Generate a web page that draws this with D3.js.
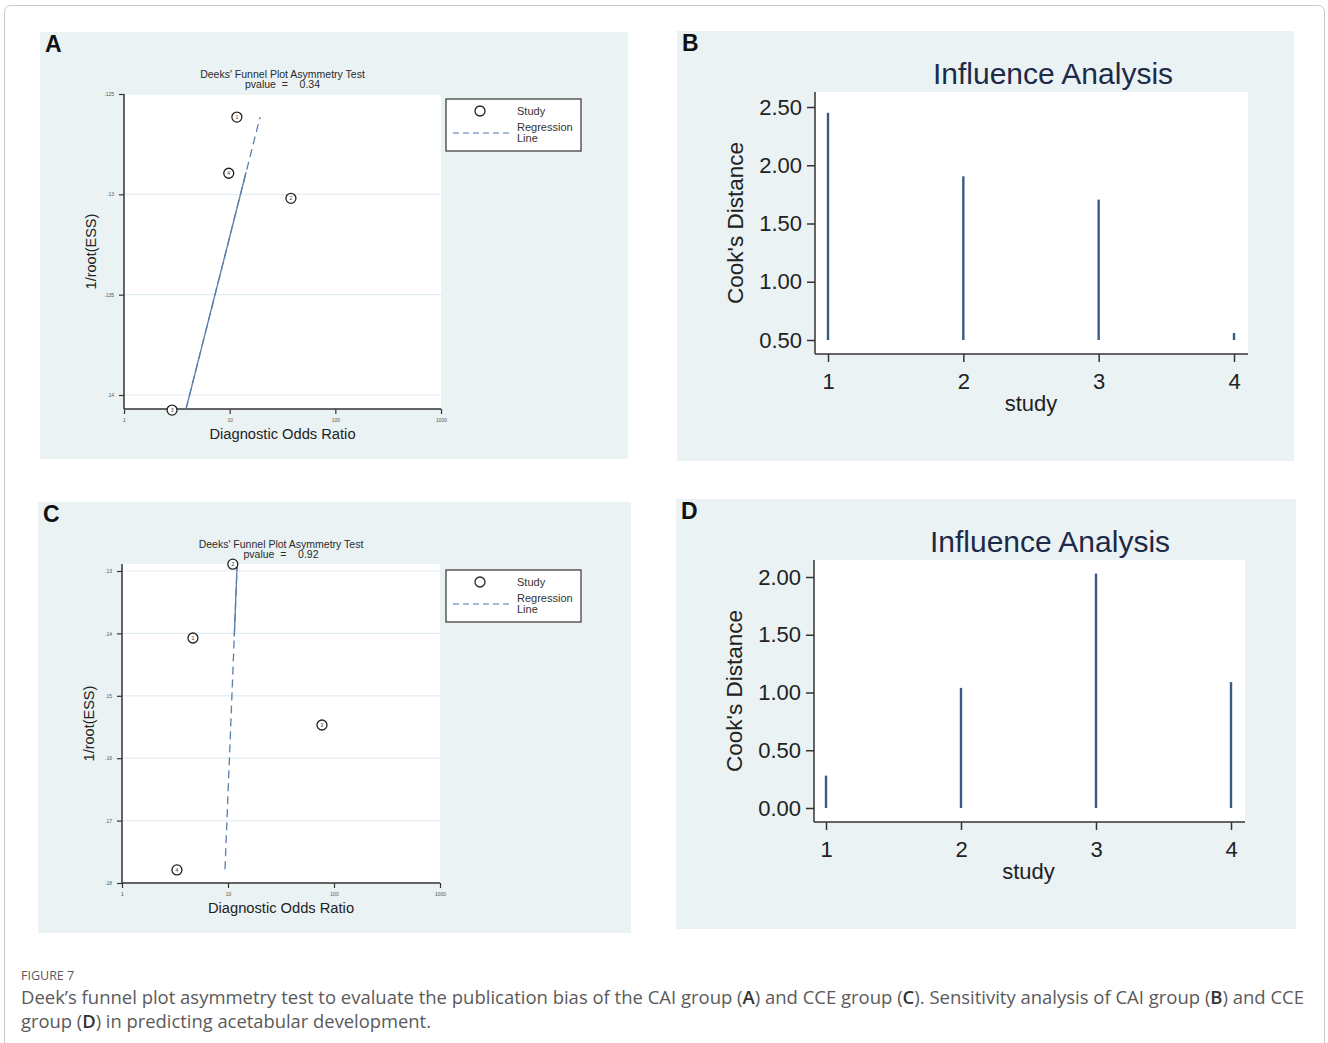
<!DOCTYPE html>
<html>
<head>
<meta charset="utf-8">
<script src="https://cdn.jsdelivr.net/npm/d3@7"></script>
<style>
  body { margin: 0; background: #fff; }
  svg text { font-family: "Liberation Sans", Arial, sans-serif; }
  .caption text { font-family: "Open Sans", "Noto Sans", sans-serif; }
</style>
</head>
<body>
<svg id="fig" width="1328" height="1043"></svg>
<script>
// Data

// Panel A - Deeks' funnel plot, CAI group
const funnelA_study = ["1", "2", "3", "4"];
const funnelA_dor = [11.7, 38, 2.85, 9.8];
const funnelA_invEss = [0.12615, 0.1302, 0.14075, 0.12895];
const funnelA_regDor = [3.86, 19.4];
const funnelA_regY = [0.1407, 0.12615];
const funnelA_solidTo = 0.1289;          // regression line drawn solid below this
const funnelA_yTicks = [0.125, 0.13, 0.135, 0.14];
const funnelA_yLabels = [".125", ".13", ".135", ".14"];
const funnelA_pvalue = "0.34";

// Panel C - Deeks' funnel plot, CCE group
const funnelC_study = ["1", "2", "3", "4"];
const funnelC_dor = [4.67, 11.1, 77, 3.3];
const funnelC_invEss = [0.14074, 0.1289, 0.15468, 0.1779];
const funnelC_regDor = [9.37, 12.2];
const funnelC_regY = [0.1778, 0.1289];
const funnelC_solidTo = 0.1405;          // solid above this
const funnelC_yTicks = [0.13, 0.14, 0.15, 0.16, 0.17, 0.18];
const funnelC_yLabels = [".13", ".14", ".15", ".16", ".17", ".18"];
const funnelC_pvalue = "0.92";

const funnelXTicks = [1, 10, 100, 1000];

// Panel B / D - influence analysis
const studies = [1, 2, 3, 4];
const cookB = [2.45, 1.905, 1.705, 0.56];
const cookB_base = 0.5;
const cookB_ticks = [0.5, 1, 1.5, 2, 2.5];
const cookD = [0.28, 1.04, 2.03, 1.09];
const cookD_base = 0;
const cookD_ticks = [0, 0.5, 1, 1.5, 2];

const PANEL_BG = "#eaf2f4";
const AXIS = "#333";
const SPIKE = "#3c5b82";
const REG = "#5a7fab";

const svg = d3.select("#fig");

// outer frame
svg.append("rect")
    .attr("x", 4.5).attr("y", 5.5)
    .attr("width", 1320).attr("height", 1060)
    .attr("rx", 6)
    .attr("fill", "none")
    .attr("stroke", "#c9c9c9");

// panel backgrounds
const panels = [
    { id: "A", x: 40, y: 32, w: 588, h: 427 },
    { id: "B", x: 677, y: 31, w: 617, h: 430 },
    { id: "C", x: 38, y: 502, w: 593, h: 431 },
    { id: "D", x: 676, y: 499, w: 620, h: 430 }
];
panels.forEach(p => {
    svg.append("rect")
        .attr("x", p.x).attr("y", p.y)
        .attr("width", p.w).attr("height", p.h)
        .attr("fill", PANEL_BG);
    svg.append("text")
        .attr("x", p.x + 5).attr("y", p.y + 20)
        .attr("font-size", 23)
        .attr("font-weight", "bold")
        .attr("fill", "#111")
        .text(p.id);
});

// Funnel plot
function drawFunnel(cfg) {
    const g = svg.append("g");
    const x = d3.scaleLog().domain([1, 1000]).range([cfg.left, cfg.right]);
    const y = d3.scaleLinear().domain(cfg.yDomain).range(cfg.yRange);

    // plot region
    g.append("rect")
        .attr("x", cfg.left).attr("y", cfg.top)
        .attr("width", cfg.right - cfg.left).attr("height", cfg.bottom - cfg.top)
        .attr("fill", "#fff");

    // grid
    g.selectAll(".grid")
        .data(cfg.yTicks)
        .enter()
        .append("line")
        .attr("x1", cfg.left).attr("x2", cfg.right)
        .attr("y1", d => y(d)).attr("y2", d => y(d))
        .attr("stroke", "#e3edf1")
        .attr("stroke-width", 1.2);

    // axes
    const yAxis = d3.axisLeft(y)
        .tickValues(cfg.yTicks)
        .tickFormat((d, i) => cfg.yLabels[i])
        .tickSize(5).tickSizeOuter(0).tickPadding(5);
    const ya = g.append("g").attr("transform", `translate(${cfg.left},0)`).call(yAxis);
    const xAxis = d3.axisBottom(x)
        .tickValues(funnelXTicks)
        .tickFormat(d3.format("d"))
        .tickSize(5).tickSizeOuter(0).tickPadding(4);
    const xa = g.append("g").attr("transform", `translate(0,${cfg.bottom})`).call(xAxis);
    [ya, xa].forEach(a => {
        a.select(".domain").remove();
        a.selectAll("line").attr("stroke", AXIS).attr("stroke-width", 1.2);
        a.selectAll("text").attr("font-size", 5).attr("fill", "#555").attr("font-family", "Liberation Sans, Arial");
    });
    g.append("line")
        .attr("x1", cfg.left).attr("x2", cfg.left)
        .attr("y1", cfg.top).attr("y2", cfg.bottom)
        .attr("stroke", AXIS).attr("stroke-width", 1.5);
    g.append("line")
        .attr("x1", cfg.left).attr("x2", cfg.right)
        .attr("y1", cfg.bottom).attr("y2", cfg.bottom)
        .attr("stroke", AXIS).attr("stroke-width", 1.5);

    // regression line: dashed overall, part of it rendered solid
    const r0 = [x(cfg.regDor[0]), y(cfg.regY[0])];
    const r1 = [x(cfg.regDor[1]), y(cfg.regY[1])];
    g.append("line")
        .attr("x1", r0[0]).attr("y1", r0[1])
        .attr("x2", r1[0]).attr("y2", r1[1])
        .attr("stroke", REG).attr("stroke-width", 1.3)
        .attr("stroke-dasharray", "8,5");
    const ys = y(cfg.solidTo);
    const t = (ys - r0[1]) / (r1[1] - r0[1]);
    const xs = r0[0] + t * (r1[0] - r0[0]);
    const solidFrom = cfg.solidLow ? r0 : r1;
    g.append("line")
        .attr("x1", solidFrom[0]).attr("y1", solidFrom[1])
        .attr("x2", xs).attr("y2", ys)
        .attr("stroke", REG).attr("stroke-width", 1.3);

    // studies
    const pts = g.selectAll(".pt")
        .data(cfg.dor.map((d, i) => ({ dor: d, v: cfg.invEss[i], s: cfg.study[i] })))
        .enter()
        .append("g")
        .attr("transform", d => `translate(${x(d.dor)},${y(d.v)})`);
    pts.append("circle")
        .attr("r", 5)
        .attr("fill", "#fff")
        .attr("stroke", "#222")
        .attr("stroke-width", 1.3);
    pts.append("text")
        .attr("text-anchor", "middle")
        .attr("dy", "0.35em")
        .attr("font-size", 5)
        .attr("fill", "#333")
        .text(d => d.s);

    // titles
    const cx = (cfg.left + cfg.right) / 2;
    g.append("text")
        .attr("x", cx).attr("y", cfg.top - 16)
        .attr("text-anchor", "middle")
        .attr("font-size", 10.5)
        .attr("fill", "#2a2a2a")
        .text("Deeks' Funnel Plot Asymmetry Test");
    g.append("text")
        .attr("x", cx).attr("y", cfg.top - 6)
        .attr("text-anchor", "middle")
        .attr("font-size", 10.5)
        .attr("fill", "#2a2a2a")
        .style("white-space", "pre")
        .text("pvalue  =    " + cfg.pvalue);
    g.append("text")
        .attr("x", cx).attr("y", cfg.bottom + 30)
        .attr("text-anchor", "middle")
        .attr("font-size", 14.7)
        .attr("fill", "#222")
        .text("Diagnostic Odds Ratio");
    g.append("text")
        .attr("transform", `translate(${cfg.left - 28},${(cfg.top + cfg.bottom) / 2}) rotate(-90)`)
        .attr("text-anchor", "middle")
        .attr("font-size", 14.5)
        .attr("fill", "#222")
        .text("1/root(ESS)");

    // legend
    const lg = g.append("g").attr("transform", `translate(${cfg.legendX},${cfg.legendY})`);
    lg.append("rect")
        .attr("width", 135).attr("height", 52)
        .attr("fill", "#fff")
        .attr("stroke", "#333").attr("stroke-width", 1.2);
    lg.append("circle")
        .attr("cx", 34).attr("cy", 12).attr("r", 5)
        .attr("fill", "none").attr("stroke", "#222").attr("stroke-width", 1.3);
    lg.append("line")
        .attr("x1", 7).attr("x2", 64).attr("y1", 34).attr("y2", 34)
        .attr("stroke", "#88a4c4").attr("stroke-width", 1.3)
        .attr("stroke-dasharray", "6,4");
    [["Study", 16], ["Regression", 32], ["Line", 43]].forEach(([s, yy]) => {
        lg.append("text")
            .attr("x", 71).attr("y", yy)
            .attr("font-size", 11)
            .attr("fill", "#333")
            .text(s);
    });
}

drawFunnel({
    left: 124, right: 441, top: 94, bottom: 409,
    yDomain: [0.125, 0.14], yRange: [94, 395],
    yTicks: funnelA_yTicks, yLabels: funnelA_yLabels,
    dor: funnelA_dor, invEss: funnelA_invEss, study: funnelA_study,
    regDor: funnelA_regDor, regY: funnelA_regY,
    solidTo: funnelA_solidTo, solidLow: true,
    pvalue: funnelA_pvalue,
    legendX: 446, legendY: 99
});

drawFunnel({
    left: 122, right: 440, top: 564, bottom: 883,
    yDomain: [0.13, 0.18], yRange: [571, 883],
    yTicks: funnelC_yTicks, yLabels: funnelC_yLabels,
    dor: funnelC_dor, invEss: funnelC_invEss, study: funnelC_study,
    regDor: funnelC_regDor, regY: funnelC_regY,
    solidTo: funnelC_solidTo, solidLow: false,
    pvalue: funnelC_pvalue,
    legendX: 446, legendY: 570
});

// Influence analysis
function drawInfluence(cfg) {
    const g = svg.append("g");
    const x = d3.scaleLinear().domain([1, 4]).range(cfg.xRange);
    const y = d3.scaleLinear().domain(cfg.yDomain).range(cfg.yRange);

    g.append("rect")
        .attr("x", cfg.left).attr("y", cfg.top)
        .attr("width", cfg.right - cfg.left).attr("height", cfg.bottom - cfg.top)
        .attr("fill", "#fff");

    const yAxis = d3.axisLeft(y)
        .tickValues(cfg.ticks)
        .tickFormat(d3.format(".2f"))
        .tickSize(8).tickSizeOuter(0).tickPadding(5);
    const ya = g.append("g").attr("transform", `translate(${cfg.left},0)`).call(yAxis);
    const xAxis = d3.axisBottom(x)
        .tickValues(studies)
        .tickFormat(d3.format("d"))
        .tickSize(8).tickSizeOuter(0).tickPadding(11);
    const xa = g.append("g").attr("transform", `translate(0,${cfg.bottom})`).call(xAxis);
    [ya, xa].forEach(a => {
        a.select(".domain").remove();
        a.selectAll("line").attr("stroke", AXIS).attr("stroke-width", 1.5);
        a.selectAll("text").attr("font-size", 22).attr("fill", "#222").attr("font-family", "Liberation Sans, Arial");
    });
    g.append("line")
        .attr("x1", cfg.left).attr("x2", cfg.left)
        .attr("y1", cfg.top).attr("y2", cfg.bottom)
        .attr("stroke", AXIS).attr("stroke-width", 1.5);
    g.append("line")
        .attr("x1", cfg.left).attr("x2", cfg.right)
        .attr("y1", cfg.bottom).attr("y2", cfg.bottom)
        .attr("stroke", AXIS).attr("stroke-width", 1.5);

    g.selectAll(".spike")
        .data(cfg.values)
        .enter()
        .append("line")
        .attr("x1", (d, i) => x(studies[i])).attr("x2", (d, i) => x(studies[i]))
        .attr("y1", y(cfg.base)).attr("y2", d => y(d))
        .attr("stroke", SPIKE)
        .attr("stroke-width", 2.4);

    g.append("text")
        .attr("x", cfg.titleX).attr("y", cfg.top - 8)
        .attr("text-anchor", "middle")
        .attr("font-size", 30)
        .attr("fill", "#1d2a48")
        .text("Influence Analysis");
    g.append("text")
        .attr("x", (cfg.xRange[0] + cfg.xRange[1]) / 2).attr("y", cfg.bottom + 57)
        .attr("text-anchor", "middle")
        .attr("font-size", 22)
        .attr("fill", "#222")
        .text("study");
    g.append("text")
        .attr("transform", `translate(${cfg.left - 72},${(cfg.top + cfg.bottom) / 2}) rotate(-90)`)
        .attr("text-anchor", "middle")
        .attr("font-size", 22.5)
        .attr("fill", "#222")
        .text("Cook's Distance");
}

drawInfluence({
    left: 815, right: 1248, top: 92, bottom: 354,
    xRange: [828, 1234],
    yDomain: [0.5, 2.5], yRange: [340, 107],
    ticks: cookB_ticks, values: cookB, base: cookB_base,
    titleX: 1053
});

drawInfluence({
    left: 814, right: 1245, top: 560, bottom: 822,
    xRange: [826, 1231],
    yDomain: [0, 2], yRange: [808, 577],
    ticks: cookD_ticks, values: cookD, base: cookD_base,
    titleX: 1050
});

// caption
const cap = svg.append("g").attr("class", "caption");
cap.append("text")
    .attr("x", 21).attr("y", 980)
    .attr("font-size", 12.5)
    .attr("fill", "#5a5a5a")
    .text("FIGURE 7");
const line1 = cap.append("text")
    .attr("x", 21).attr("y", 1004)
    .attr("font-size", 17.5)
    .attr("textLength", 1283)
    .attr("lengthAdjust", "spacingAndGlyphs")
    .attr("fill", "#5a5a5a");
const line2 = cap.append("text")
    .attr("x", 21).attr("y", 1028)
    .attr("font-size", 17.5)
    .attr("textLength", 410)
    .attr("lengthAdjust", "spacingAndGlyphs")
    .attr("fill", "#5a5a5a");
function addRuns(el, parts) {
    parts.forEach(([s, bold]) => {
        el.append("tspan")
            .attr("font-weight", bold ? 600 : null)
            .attr("fill", bold ? "#333" : null)
            .text(s);
    });
}
addRuns(line1, [
    ["Deek\u2019s funnel plot asymmetry test to evaluate the publication bias of the CAI group (", false],
    ["A", true], [") and CCE group (", false], ["C", true],
    ["). Sensitivity analysis of CAI group (", false], ["B", true], [") and CCE", false]
]);
addRuns(line2, [
    ["group (", false], ["D", true], [") in predicting acetabular development.", false]
]);
</script>
</body>
</html>
